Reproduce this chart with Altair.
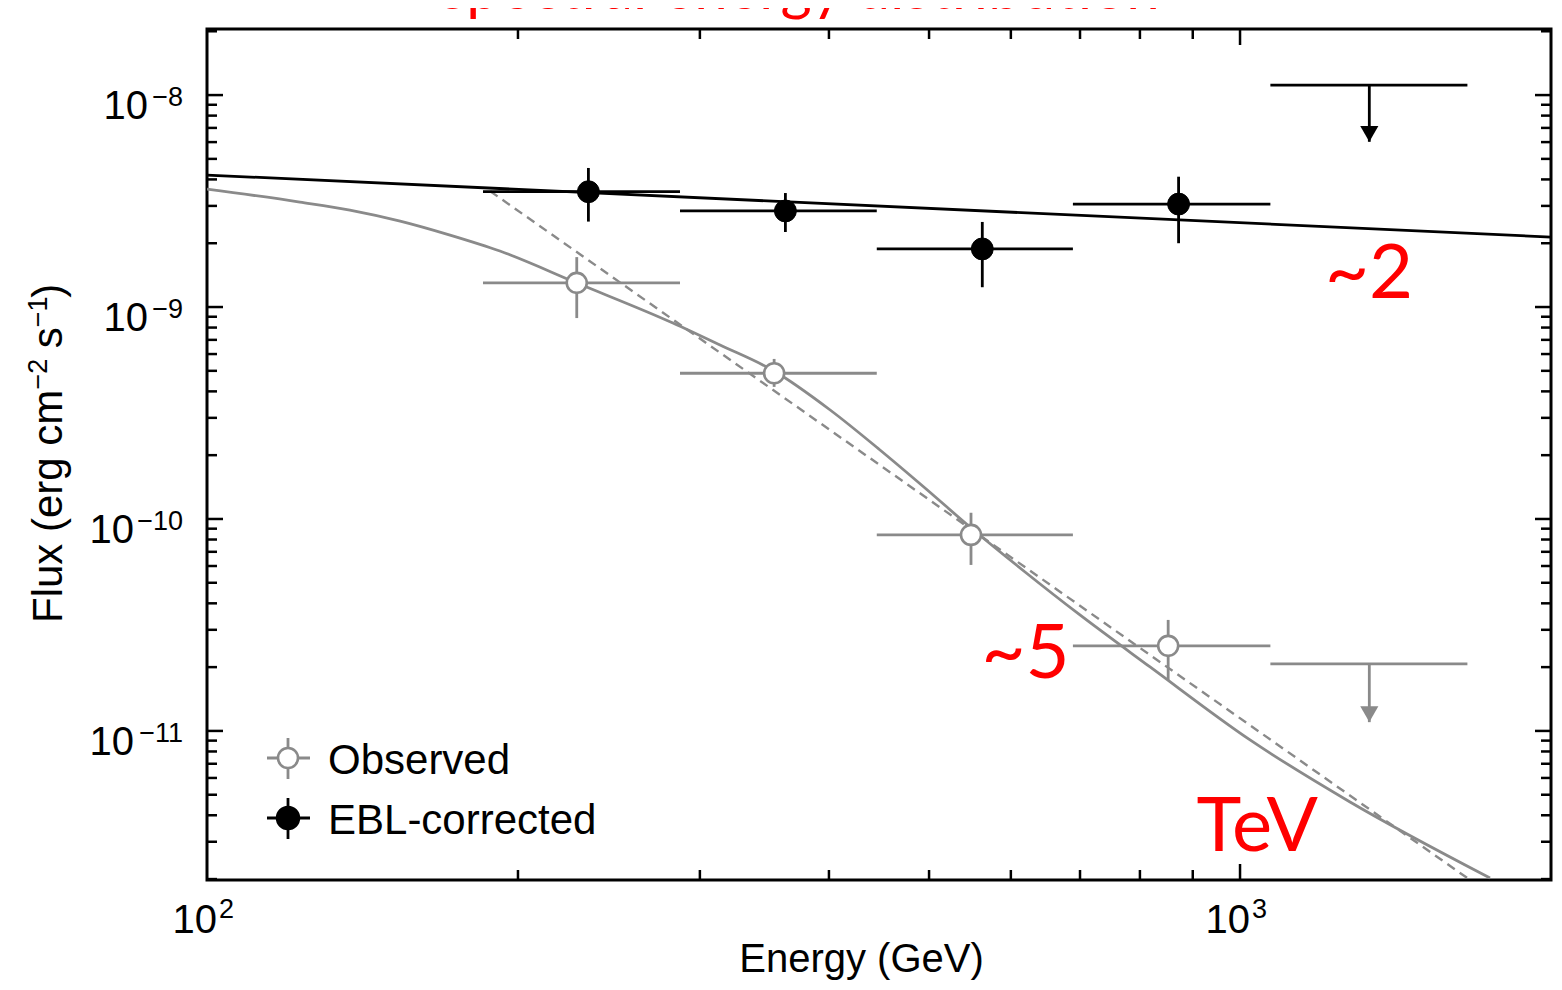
import altair as alt
import pandas as pd

# ---------------- data ----------------
series = ["Observed", "EBL-corrected"]

bin_lo = [185, 287, 445, 689]
bin_hi = [287, 445, 689, 1070]

obs_E = [228, 354, 549, 852]
obs_F = [1.30e-9, 4.87e-10, 8.41e-11, 2.52e-11]
obs_F_hi = [1.72e-9, 5.69e-10, 1.07e-10, 3.34e-11]
obs_F_lo = [8.87e-10, 4.20e-10, 6.07e-11, 1.74e-11]

ebl_E = [234, 363, 563, 872]
ebl_F = [3.50e-9, 2.84e-9, 1.88e-9, 3.06e-9]
ebl_F_hi = [4.53e-9, 3.45e-9, 2.52e-9, 4.12e-9]
ebl_F_lo = [2.53e-9, 2.26e-9, 1.24e-9, 2.00e-9]

ul_lo = [1070, 1070]
ul_hi = [1660, 1660]
ul_E = [1334, 1334]
ul_F = [2.07e-11, 1.115e-8]
ul_tip = [1.10e-11, 6.02e-9]

fit_ebl_E = [100, 2000]
fit_ebl_F = [4.195e-9, 2.138e-9]

fit_pl_E = [188, 1670]
fit_pl_F = [3.52e-9, 1.98e-12]

model_E = [100, 123.0, 137.5, 153.8, 171.9, 192.1, 228.1, 282.5, 313.8, 353.9, 401.1,
           448.2, 495.5, 547.7, 619.3, 699.9, 818.3, 1022.5, 1277.9, 1745.8]
model_F = [3.601e-9, 3.128e-9, 2.868e-9, 2.544e-9, 2.185e-9, 1.837e-9, 1.298e-9, 8.406e-10,
           6.617e-10, 4.990e-10, 3.267e-10, 2.116e-10, 1.400e-10, 9.17e-11, 5.623e-11,
           3.525e-11, 2.004e-11, 9.07e-12, 4.624e-12, 2.025e-12]

ann_text = ["~2", "~5", "TeV"]
ann_E = [1333, 620, 1039]
ann_F = [1.42e-9, 2.28e-11, 3.48e-12]

title_text = "spectral energy distribution"
x_title = "Energy (GeV)"
y_title_parts = ["Flux (erg cm", "−2", "s", "−1", ")"]

x_label_values = [100, 1000]
x_label_exp = ["2", "3"]
y_label_values = [1e-8, 1e-9, 1e-10, 1e-11]
y_label_exp = ["−8", "−9", "−10", "−11"]

x_major_ticks = [1000]
x_minor_ticks = [200, 300, 400, 500, 600, 700, 800, 900]
y_major_ticks = [1e-8, 1e-9, 1e-10, 1e-11]
y_minor_ticks = [m * 10.0 ** e for e in (-12, -11, -10, -9) for m in range(2, 10)] + [2e-8]

# ---------------- styling ----------------
GRAY = "#8a8a8a"
FONT = "'Liberation Sans', Arial, Helvetica, sans-serif"
RED_FONT = "Lato, 'Open Sans', sans-serif"
W, H = 1344, 851
MAJ, MIN = 16, 10
LW = 2.8

xscale = alt.Scale(type="log", domain=[100, 2000])
yscale = alt.Scale(type="log", domain=[1.98e-12, 2.05e-8])

xaxis = alt.Axis(values=x_label_values, labels=False, ticks=False, domain=False, grid=False,
                 title=x_title, titleFont=FONT, titleFontSize=40, titleFontWeight="normal",
                 titleColor="black", titleX=654, titleY=91, titleBaseline="alphabetic",
                 titleAlign="center")


def X(f="E"):
    return alt.X(f"{f}:Q", scale=xscale, axis=xaxis)


def Y(f="F"):
    return alt.Y(f"{f}:Q", scale=yscale, axis=None)


def one(**kw):
    return alt.Chart(pd.DataFrame({k: [v] for k, v in kw.items()}))


layers = []

# model lines
layers.append(alt.Chart(pd.DataFrame({"E": model_E, "F": model_F})).mark_line(
    color=GRAY, strokeWidth=LW, clip=True, interpolate="monotone").encode(x=X(), y=Y()))
layers.append(alt.Chart(pd.DataFrame({"E": fit_pl_E, "F": fit_pl_F})).mark_line(
    color=GRAY, strokeWidth=2.4, strokeDash=[9, 6], clip=True).encode(x=X(), y=Y()))
layers.append(alt.Chart(pd.DataFrame({"E": fit_ebl_E, "F": fit_ebl_F})).mark_line(
    color="black", strokeWidth=LW, clip=True).encode(x=X(), y=Y()))

# error bars
for E, F, Flo, Fhi, col in [(obs_E, obs_F, obs_F_lo, obs_F_hi, GRAY),
                            (ebl_E, ebl_F, ebl_F_lo, ebl_F_hi, "black")]:
    df = pd.DataFrame({"E": E, "F": F, "Flo": Flo, "Fhi": Fhi, "Elo": bin_lo, "Ehi": bin_hi})
    base = alt.Chart(df)
    layers.append(base.mark_rule(color=col, strokeWidth=LW).encode(x=X("Elo"), x2="Ehi:Q", y=Y()))
    layers.append(base.mark_rule(color=col, strokeWidth=LW).encode(x=X(), y=Y("Flo"), y2="Fhi:Q"))

# upper limits
ul_df = pd.DataFrame({"Elo": ul_lo, "Ehi": ul_hi, "E": ul_E, "F": ul_F, "Ftip": ul_tip, "series": series})
ul_color = alt.Color("series:N", scale=alt.Scale(domain=series, range=[GRAY, "black"]), legend=None)
ul_base = alt.Chart(ul_df)
layers.append(ul_base.mark_rule(strokeWidth=LW).encode(x=X("Elo"), x2="Ehi:Q", y=Y(), color=ul_color))
layers.append(ul_base.mark_rule(strokeWidth=LW).encode(x=X(), y=Y(), y2="Ftip:Q", color=ul_color))
layers.append(ul_base.mark_point(shape="triangle-down", filled=True, size=330, yOffset=-8, opacity=1).encode(
    x=X(), y=Y("Ftip"), color=ul_color))

# data points
layers.append(alt.Chart(pd.DataFrame({"E": obs_E, "F": obs_F})).mark_point(
    filled=True, fill="white", stroke=GRAY, strokeWidth=2.6, size=400, opacity=1).encode(x=X(), y=Y()))
layers.append(alt.Chart(pd.DataFrame({"E": ebl_E, "F": ebl_F})).mark_point(
    filled=True, fill="black", stroke="black", strokeWidth=1, size=480, opacity=1).encode(x=X(), y=Y()))


# legend (drawn by hand, in pixels of the plot frame)
def legend_item(label, yc, color, fill, size):
    d = one(label=label)
    return [
        d.mark_rule(color=color, strokeWidth=LW).encode(x=alt.value(60), x2=alt.value(103), y=alt.value(yc)),
        d.mark_rule(color=color, strokeWidth=LW).encode(x=alt.value(81), y=alt.value(yc - 20), y2=alt.value(yc + 21)),
        d.mark_point(filled=True, fill=fill, stroke=color, strokeWidth=2.6, size=size, opacity=1).encode(
            x=alt.value(81), y=alt.value(yc)),
        d.mark_text(align="left", baseline="alphabetic", font=FONT, fontSize=42, color="black").encode(
            x=alt.value(121), y=alt.value(yc + 16), text="label:N"),
    ]


layers += legend_item(series[0], 729, GRAY, "white", 400)
layers += legend_item(series[1], 789, "black", "black", 480)


# inward ticks on all four sides
def xticks(vals, length):
    d = alt.Chart(pd.DataFrame({"E": vals}))
    return [d.mark_rule(color="black", strokeWidth=2.5).encode(x=X(), y=alt.value(H), y2=alt.value(H - length)),
            d.mark_rule(color="black", strokeWidth=2.5).encode(x=X(), y=alt.value(0), y2=alt.value(length))]


def yticks(vals, length):
    d = alt.Chart(pd.DataFrame({"F": vals}))
    return [d.mark_rule(color="black", strokeWidth=2.5).encode(y=Y(), x=alt.value(0), x2=alt.value(length)),
            d.mark_rule(color="black", strokeWidth=2.5).encode(y=Y(), x=alt.value(W), x2=alt.value(W - length))]


layers += xticks(x_major_ticks, MAJ) + xticks(x_minor_ticks, MIN)
layers += yticks(y_major_ticks, MAJ) + yticks(y_minor_ticks, MIN)

# tick labels: "10" with a raised exponent
xl = alt.Chart(pd.DataFrame({"E": x_label_values, "t": x_label_exp}))
layers.append(xl.mark_text(text="10", align="right", baseline="alphabetic", dx=10, font=FONT,
                           fontSize=40, color="black").encode(x=X(), y=alt.value(H + 53)))
layers.append(xl.mark_text(align="left", baseline="alphabetic", dx=12, font=FONT,
                           fontSize=27, color="black").encode(x=X(), y=alt.value(H + 38), text="t:N"))

yl = pd.DataFrame({"F": y_label_values, "t": y_label_exp})
for n, xpos in [(2, -59), (3, -73)]:
    sub = yl[yl["t"].str.len() == n]
    layers.append(alt.Chart(sub).mark_text(text="10", align="right", baseline="alphabetic", dy=24, font=FONT,
                                           fontSize=40, color="black").encode(x=alt.value(xpos), y=Y()))
layers.append(alt.Chart(yl).mark_text(align="right", baseline="alphabetic", dy=11, font=FONT,
                                      fontSize=27, color="black").encode(x=alt.value(-24), y=Y(), text="t:N"))

# y title, written bottom-to-top in pieces so that the exponents are raised
for txt, xp, yp, fs in zip(y_title_parts, [-145, -160, -145, -160, -145],
                           [594, 360.6, 319.3, 298.3, 268.7], [42, 27, 42, 27, 42]):
    layers.append(one(t=txt).mark_text(angle=270, align="left", baseline="alphabetic", font=FONT,
                                       fontSize=fs, color="black").encode(
        x=alt.value(xp), y=alt.value(yp), text="t:N"))

# red annotations
layers.append(alt.Chart(pd.DataFrame({"E": ann_E, "F": ann_F, "t": ann_text})).mark_text(
    color="red", font=RED_FONT, fontSize=76, align="center", baseline="middle").encode(
    x=X(), y=Y(), text="t:N"))

# red title, cut by the top edge as in the reference
layers.append(one(t=title_text).mark_text(color="red", font=RED_FONT, fontSize=60, align="center",
                                          baseline="alphabetic").encode(
    x=alt.value(593), y=alt.value(-20), text="t:N"))

chart = alt.layer(*layers).properties(
    width=W, height=H,
    autosize=alt.AutoSizeParams(type="none"),
    padding={"left": 199, "top": 21, "right": 3, "bottom": 101},
).configure_view(stroke="black", strokeWidth=3)

chart.save("out.html", embed_options={"renderer": "svg", "actions": False})
